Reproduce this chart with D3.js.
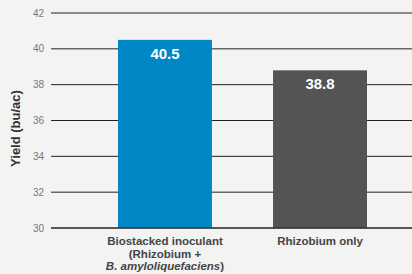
<!DOCTYPE html>
<html><head><meta charset="utf-8">
<script src="https://cdn.jsdelivr.net/npm/d3@7"></script>
<style>html,body{margin:0;padding:0;background:#f3f3f3;}svg{display:block;font-family:"Liberation Sans",Arial,sans-serif;}</style>
</head><body>
<svg id="c" width="412" height="274"></svg>
<script>
const categories = ["Biostacked inoculant", "Rhizobium only"];
const values = [40.5, 38.8];
const colors = ["#0088c6", "#545454"];
const tickValues = [30, 32, 34, 36, 38, 40, 42];
const yTitle = "Yield (bu/ac)";

const svg = d3.select("#c");
const W = 412, H = 274;
const x = d3.scaleBand().domain(categories).range([118, 367]).paddingInner(0.394).paddingOuter(0);
const y = d3.scaleLinear().domain([30, 42]).range([228, 13]);

// grid
const g = svg.append("g");
g.selectAll("line.grid").data(tickValues).join("line")
  .attr("x1", 51).attr("x2", W).attr("y1", d => y(d)).attr("y2", d => y(d))
  .attr("stroke", "#222").attr("stroke-width", 1);
g.selectAll("text.tick").data(tickValues).join("text")
  .attr("x", 44).attr("y", d => y(d) + 3.5).attr("text-anchor", "end")
  .attr("font-size", 10).attr("fill", "#777").text(d => d);

// bars
svg.selectAll("rect.bar").data(values).join("rect")
  .attr("x", (d, i) => x(categories[i])).attr("width", x.bandwidth())
  .attr("y", d => y(d)).attr("height", d => y(30) - y(d))
  .attr("fill", (d, i) => colors[i]);
svg.selectAll("text.val").data(values).join("text")
  .attr("x", (d, i) => x(categories[i]) + x.bandwidth() / 2)
  .attr("y", d => y(d) + 19).attr("text-anchor", "middle")
  .attr("font-size", 15).attr("font-weight", "bold").attr("fill", "#fff")
  .text(d => d.toFixed(1));

// baseline
svg.append("line").attr("x1", 51).attr("x2", W).attr("y1", y(30)).attr("y2", y(30))
  .attr("stroke", "#222").attr("stroke-width", 1);

// category labels
const cx0 = x(categories[0]) + x.bandwidth() / 2;
const lines = [245, 257.5, 270];
const t0 = svg.append("text").attr("text-anchor", "middle").attr("font-size", 11.5)
  .attr("font-weight", "bold").attr("fill", "#444");
t0.append("tspan").attr("x", cx0).attr("y", lines[0]).text(categories[0]);
t0.append("tspan").attr("x", cx0).attr("y", lines[1]).text("(Rhizobium +");
const t3 = t0.append("tspan").attr("x", cx0).attr("y", lines[2]);
t3.append("tspan").attr("font-style", "italic").text("B. amyloliquefaciens");
t3.append("tspan").text(")");
svg.append("text").attr("x", x(categories[1]) + x.bandwidth() / 2).attr("y", lines[0])
  .attr("text-anchor", "middle").attr("font-size", 11.5).attr("font-weight", "bold")
  .attr("fill", "#444").text(categories[1]);

// y title
svg.append("text").attr("transform", `translate(20,${(y(30)+y(42))/2 + 8}) rotate(-90)`)
  .attr("text-anchor", "middle").attr("font-size", 13).attr("font-weight", "bold")
  .attr("fill", "#333").text(yTitle);
</script>
</body></html>
